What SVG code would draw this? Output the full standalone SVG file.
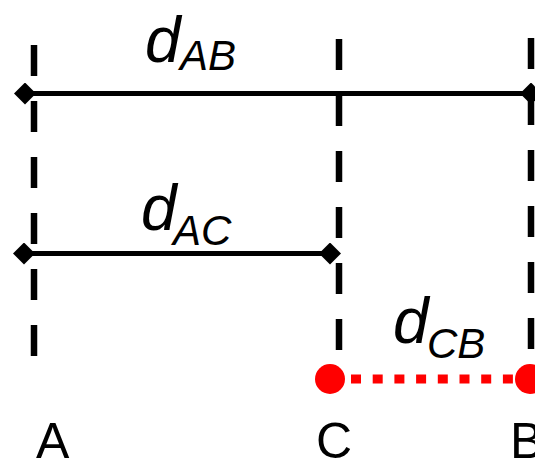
<svg xmlns="http://www.w3.org/2000/svg" width="535" height="461" viewBox="0 0 535 461">
<defs>
<style>
.guide{stroke:#000;stroke-width:6.5;stroke-dasharray:31 25;fill:none}
.dim{stroke:#000;stroke-width:5;fill:none}
.red{stroke:#f00;stroke-width:9;stroke-dasharray:10 11.7;fill:none}
.lbl{font-family:"Liberation Sans",Arial,sans-serif;fill:#000}
.it{font-style:italic}
</style>
<marker id="dia" viewBox="-6 -6 12 12" markerWidth="4.4" markerHeight="4.4" refX="0" refY="0" markerUnits="strokeWidth" orient="auto">
<path d="M-6 0 0-6 6 0 0 6z" fill="#000"/>
</marker>
</defs>
<g id="connectors">
<line class="dim" x1="25" y1="93.5" x2="531" y2="93.5" marker-start="url(#dia)" marker-end="url(#dia)"/>
<line class="dim" x1="24" y1="253.5" x2="330" y2="253.5" marker-start="url(#dia)" marker-end="url(#dia)"/>
<line class="red" x1="351" y1="379" x2="515" y2="379"/>
</g>
<g id="lineA"><line class="guide" x1="34" y1="45" x2="34" y2="358"/></g>
<g id="lineC"><line class="guide" x1="339" y1="39" x2="339" y2="351"/></g>
<g id="lineB"><line class="guide" x1="531" y1="38" x2="531" y2="351"/></g>
<g id="pointC"><circle cx="330" cy="379" r="15" fill="#f00"/></g>
<g id="pointB"><circle cx="530" cy="379" r="15" fill="#f00"/></g>
<g id="labelAB"><text class="lbl it" x="145" y="62" font-size="64">d</text><text class="lbl it" x="180" y="70" font-size="42">AB</text></g>
<g id="labelAC"><text class="lbl it" x="141" y="230" font-size="64">d</text><text class="lbl it" x="173" y="245" font-size="42">AC</text></g>
<g id="labelCB"><text class="lbl it" x="393" y="343" font-size="64">d</text><text class="lbl it" x="427" y="358" font-size="42">CB</text></g>
<g id="labelA"><text class="lbl" x="36" y="458" font-size="50">A</text></g>
<g id="labelC"><text class="lbl" x="316" y="458" font-size="50">C</text></g>
<g id="labelB"><text class="lbl" x="510" y="458" font-size="50">B</text></g>
</svg>
